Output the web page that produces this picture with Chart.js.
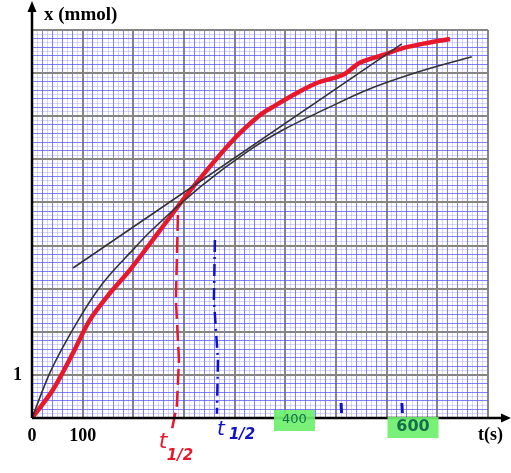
<!DOCTYPE html>
<html>
<head>
<meta charset="utf-8">
<script src="https://cdn.jsdelivr.net/npm/chart.js@4.4.1/dist/chart.umd.min.js"></script>
<style>
  html, body { margin: 0; padding: 0; background: #fff; }
  #wrap { width: 511px; height: 473px; }
</style>
</head>
<body>
<div id="wrap"><canvas id="chart" width="511" height="473"></canvas></div>
<script>
// experimental curve x(t)
var curveT = [0, 35, 95, 140, 199, 233, 332, 430, 495, 580, 661, 760, 868];
var curveX = [0, 1.04, 2.34, 3.13, 3.90, 4.32, 5.36, 6.22, 6.68, 7.17, 7.61, 8.02, 8.38];
// tangent line
var tangentT = [81, 730];
var tangentX = [3.48, 8.68];
// red hand drawn curve
var redT = [0, 41, 81, 114, 154, 193, 253, 318, 397, 450, 476, 520, 562, 614, 647, 693, 732, 780, 825];
var redX = [0, 0.65, 1.51, 2.27, 2.90, 3.43, 4.36, 5.36, 6.45, 7.03, 7.22, 7.52, 7.77, 7.96, 8.24, 8.42, 8.58, 8.70, 8.79];
// half-life guide lines
var redHalfT = [288, 284, 290, 286, 276];
var redHalfX = [4.71, 2.74, 1.35, 0.30, -0.28];
var blueHalfT = [361, 359, 367, 365];
var blueHalfX = [4.13, 2.74, 1.35, 0.10];
// axis ticks
var xTickLabels = [0, 100];
var yTickLabels = [1];
// handwritten notes on the t axis
var noteTexts = ['400', '600'];
var noteT = [518, 752];
var blueMarksT = [610, 730];

function pts(xs, ys) {
    return xs.map(function(v, i) { return { x: v, y: ys[i] }; });
}

var annotations = {
    id: 'annotations',
    afterDraw: function(chart) {
        var ctx = chart.ctx;
        var xs = chart.scales.x, ys = chart.scales.y;
        var ox = xs.getPixelForValue(0), oy = ys.getPixelForValue(0);
        ctx.save();
        // axes with arrows
        ctx.strokeStyle = '#000';
        ctx.fillStyle = '#000';
        ctx.lineWidth = 2.5;
        ctx.beginPath();
        ctx.moveTo(ox, oy);
        ctx.lineTo(chart.width - 6, oy);
        ctx.moveTo(ox, oy);
        ctx.lineTo(ox, 10);
        ctx.stroke();
        ctx.beginPath();
        ctx.moveTo(chart.width, oy);
        ctx.lineTo(chart.width - 10, oy - 4.5);
        ctx.lineTo(chart.width - 10, oy + 4.5);
        ctx.closePath();
        ctx.fill();
        ctx.beginPath();
        ctx.moveTo(ox, 1);
        ctx.lineTo(ox - 4.5, 12);
        ctx.lineTo(ox + 4.5, 12);
        ctx.closePath();
        ctx.fill();

        // axis titles
        ctx.font = 'bold 19px "Liberation Serif"';
        ctx.textBaseline = 'middle';
        ctx.textAlign = 'left';
        ctx.fillText('x (mmol)', 44, 15);
        ctx.font = 'bold 18px "Liberation Serif"';
        ctx.fillText('t(s)', 478, oy + 17);

        // t1/2 labels
        var rx = xs.getPixelForValue(redHalfT[4]);
        ctx.fillStyle = '#e8182c';
        ctx.font = 'italic 22px "DejaVu Sans"';
        ctx.fillText('t', rx - 13, oy + 24);
        ctx.font = 'italic bold 15px "DejaVu Sans"';
        ctx.fillText('1/2', rx - 5, oy + 38);
        var bx = xs.getPixelForValue(blueHalfT[3]);
        ctx.fillStyle = '#1010c8';
        ctx.font = 'italic 20px "DejaVu Sans"';
        ctx.fillText('t', bx, oy + 12);
        ctx.font = 'italic bold 15px "DejaVu Sans"';
        ctx.fillText('1/2', bx + 12, oy + 17);

        // blue marks
        ctx.strokeStyle = '#1010c8';
        ctx.lineWidth = 3;
        blueMarksT.forEach(function(t) {
            var px = xs.getPixelForValue(t);
            ctx.beginPath();
            ctx.moveTo(px, oy - 15);
            ctx.lineTo(px + 0.5, oy - 5);
            ctx.stroke();
        });

        // green highlighted numbers
        noteTexts.forEach(function(txt, i) {
            var px = xs.getPixelForValue(noteT[i]);
            var w = i === 0 ? 41 : 51, top = i === 0 ? oy - 8 : oy - 1;
            ctx.fillStyle = 'rgba(110,240,110,0.92)';
            ctx.fillRect(px - w / 2, top, w, 21);
            ctx.fillStyle = '#15704a';
            ctx.textAlign = 'center';
            ctx.font = (i === 0 ? '13px' : 'bold 16px') + ' "DejaVu Sans"';
            ctx.fillText(txt, px, top + 10);
        });
        ctx.restore();
    }
};

var ctx = document.getElementById('chart').getContext('2d');
var chart = new Chart(ctx, {
    type: 'scatter',
    data: {
        datasets: [{
            data: pts(curveT, curveX),
            showLine: true,
            borderColor: '#333',
            borderWidth: 1.6,
            pointRadius: 0,
            cubicInterpolationMode: 'monotone'
        }, {
            data: pts(tangentT, tangentX),
            showLine: true,
            borderColor: '#333',
            borderWidth: 1.6,
            pointRadius: 0
        }, {
            data: pts(redT, redX),
            showLine: true,
            borderColor: '#e8182c',
            borderWidth: 4.5,
            pointRadius: 0,
            tension: 0.3
        }, {
            data: pts(redHalfT, redHalfX),
            showLine: true,
            borderColor: '#e8182c',
            borderWidth: 2.5,
            borderDash: [16, 6],
            pointRadius: 0,
            clip: false
        }, {
            data: pts(blueHalfT, blueHalfX),
            showLine: true,
            borderColor: '#1010c8',
            borderWidth: 2.5,
            borderDash: [12, 5, 2, 5],
            pointRadius: 0,
            clip: false
        }]
    },
    options: {
        responsive: false,
        animation: false,
        layout: { padding: { left: 0, top: 30, right: 23, bottom: 0 } },
        plugins: { legend: { display: false }, tooltip: { enabled: false } },
        scales: {
            x: {
                type: 'linear',
                min: 0,
                max: 900,
                afterFit: function(s) { s.height = 55; },
                border: { display: false },
                grid: {
                    drawTicks: false,
                    color: function(c) {
                        var v = Math.round(c.tick.value);
                        if (v % 100 === 0) return '#858585';
                        if (v % 20 === 0 || v === 660) return 'rgba(80,80,255,0.72)';
                        return 'rgba(120,120,255,0.3)';
                    },
                    lineWidth: function(c) {
                        var v = Math.round(c.tick.value);
                        return v % 100 === 0 ? 2 : 1;
                    }
                },
                ticks: {
                    stepSize: 10,
                    autoSkip: false,
                    maxRotation: 0,
                    padding: 8,
                    color: '#000',
                    font: { family: 'Liberation Serif', size: 18, weight: 'bold' },
                    callback: function(v) {
                        return xTickLabels.indexOf(Math.round(v)) >= 0 ? String(Math.round(v)) : '';
                    }
                }
            },
            y: {
                type: 'linear',
                min: 0,
                max: 9,
                afterFit: function(s) { s.width = 32; },
                border: { display: false },
                grid: {
                    drawTicks: false,
                    color: function(c) {
                        var v = Math.round(c.tick.value * 10);
                        if (v % 10 === 0) return '#858585';
                        if (v % 2 === 0 || v === 86) return 'rgba(80,80,255,0.72)';
                        return 'rgba(120,120,255,0.3)';
                    },
                    lineWidth: function(c) {
                        var v = Math.round(c.tick.value * 10);
                        return v % 10 === 0 ? 2 : 1;
                    }
                },
                ticks: {
                    stepSize: 0.1,
                    autoSkip: false,
                    padding: 10,
                    color: '#000',
                    font: { family: 'Liberation Serif', size: 18, weight: 'bold' },
                    callback: function(v) {
                        var r = Math.round(v * 10) / 10;
                        return yTickLabels.indexOf(r) >= 0 ? String(r) : '';
                    }
                }
            }
        }
    },
    plugins: [annotations]
});
</script>
</body>
</html>
